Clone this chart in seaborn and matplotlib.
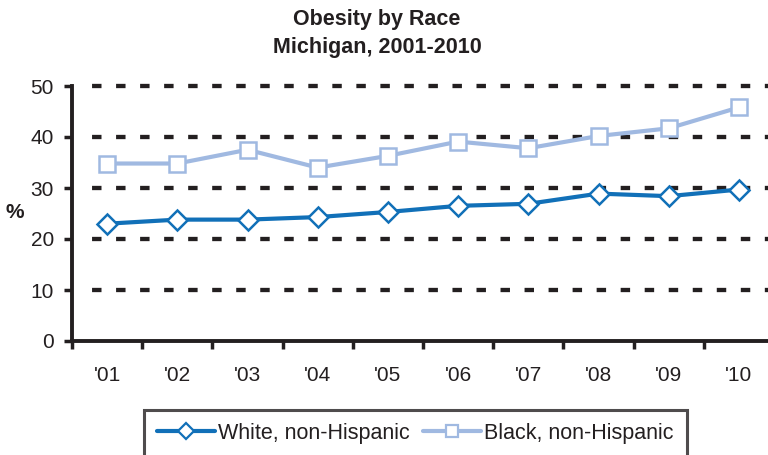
import matplotlib
matplotlib.use("Agg")
import matplotlib.pyplot as plt
import seaborn as sns
import pandas as pd
from matplotlib.lines import Line2D

years = ["'01", "'02", "'03", "'04", "'05", "'06", "'07", "'08", "'09", "'10"]
white_nh = [23.0, 23.8, 23.8, 24.3, 25.3, 26.5, 26.9, 28.9, 28.4, 29.7]
black_nh = [34.8, 34.8, 37.5, 34.0, 36.3, 39.1, 37.8, 40.2, 41.7, 45.8]
series_names = ["White, non-Hispanic", "Black, non-Hispanic"]
y_ticks = [0, 10, 20, 30, 40, 50]

sns.set_style("white")
plt.rcParams["font.family"] = ["Liberation Sans", "DejaVu Sans"]
plt.rcParams["lines.scale_dashes"] = False

dark_blue = "#1170b8"
light_blue = "#a0b9e1"
ink = "#231f20"

df = pd.DataFrame({
    "pos": list(range(len(years))) * 2,
    "value": white_nh + black_nh,
    "series": [series_names[0]] * len(years) + [series_names[1]] * len(years),
})

fig = plt.figure(figsize=(7.68, 4.55), dpi=100)
ax = fig.add_axes([72 / 768, 1 - 341 / 455, 702 / 768, (341 - 86) / 455])

# dashed horizontal reference lines
for yv in y_ticks[1:]:
    ax.axhline(yv, xmin=0.01, xmax=1, color=ink, lw=3.1,
               linestyle=(7.9, (6.8, 10.5)), zorder=1, clip_on=False)

sns.lineplot(data=df, x="pos", y="value", hue="series", style="series",
             palette=[dark_blue, light_blue], markers=["D", "s"], dashes=False,
             linewidth=3.0, markersize=11, markerfacecolor="white",
             markeredgewidth=1.8, ax=ax, zorder=3, legend=False)
# marker edges take the series colour
for line, col in zip(ax.lines[-2:], [dark_blue, light_blue]):
    line.set_markeredgecolor(col)
ax.lines[-2].set_markersize(10)
ax.lines[-1].set_markersize(12)

ax.set_xlim(-0.5, 9.5)
ax.set_ylim(0, 50)
ax.set_yticks(y_ticks)
ax.set_yticklabels([str(v) for v in y_ticks], fontsize=15)
ax.set_xticks([i - 0.5 for i in range(len(years) + 1)])
ax.set_xticklabels([])
ax.set_xticks(range(len(years)), minor=True)
ax.set_xticklabels(years, minor=True, fontsize=15)
ax.tick_params(axis="x", which="major", direction="out", length=6, width=2.5,
               color=ink, bottom=True)
ax.tick_params(axis="x", which="minor", length=0, pad=18, labelcolor=ink)
ax.tick_params(axis="y", direction="out", length=6, width=2.5, color=ink,
               left=True, pad=7, labelcolor=ink)

for side in ["top", "right"]:
    ax.spines[side].set_visible(False)
for side in ["left", "bottom"]:
    ax.spines[side].set_color(ink)
    ax.spines[side].set_linewidth(2.8)
ax.spines["bottom"].set_clip_on(False)

ax.set_xlabel("")
ax.set_ylabel("")
fig.text(15 / 768, 1 - 213 / 455, "%", fontsize=15, fontweight="bold",
         ha="center", va="center", color=ink)

fig.text(377 / 768, 1 - 20 / 455, "Obesity by Race", fontsize=15.5,
         fontweight="bold", ha="center", va="center", color=ink)
fig.text(377 / 768, 1 - 48 / 455, "Michigan, 2001-2010", fontsize=15.5,
         fontweight="bold", ha="center", va="center", color=ink)

handles = [
    Line2D([], [], color=dark_blue, lw=3.0, marker="D", markersize=8,
           markerfacecolor="white", markeredgecolor=dark_blue, markeredgewidth=1.6),
    Line2D([], [], color=light_blue, lw=3.0, marker="s", markersize=9,
           markerfacecolor="white", markeredgecolor=light_blue, markeredgewidth=1.6),
]
leg = fig.legend(handles, series_names, loc="upper left",
                 bbox_to_anchor=(144 / 768, 1 - 410 / 455), ncol=2,
                 fontsize=15.5, frameon=True, fancybox=False, handlelength=2.7,
                 handletextpad=0.15, columnspacing=0.6, borderpad=0.6,
                 borderaxespad=0)
leg.get_frame().set_edgecolor(ink)
leg.get_frame().set_linewidth(2.2)
for t in leg.get_texts():
    t.set_color(ink)

fig.savefig("out.png", dpi=100)
